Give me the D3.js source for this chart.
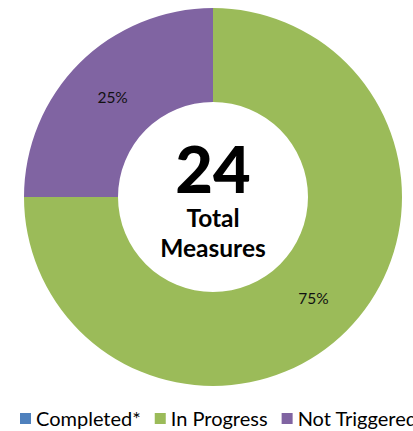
<!DOCTYPE html>
<html><head><meta charset="utf-8">
<script src="https://cdn.jsdelivr.net/npm/d3@7"></script>
<style>body{margin:0;background:#fff;overflow:hidden}svg{display:block}</style>
</head><body>
<script>
const categories = ["Completed*", "In Progress", "Not Triggered"];
const values = [0, 18, 6];
const colors = ["#4F81BD", "#9BBB59", "#8064A2"];
const totalLabel = ["Total", "Measures"];

const W = 413, H = 431;
const cx = 213, cy = 197, rOuter = 189, rInner = 95;
const font = "Lato, 'Open Sans', sans-serif";

const svg = d3.select("body").append("svg").attr("width", W).attr("height", H);
const g = svg.append("g").attr("transform", `translate(${cx},${cy})`);

const data = categories.map((c, i) => ({cat: c, value: values[i], color: colors[i]}));
const pie = d3.pie().sort(null).value(d => d.value);
const arcs = pie(data);
const arc = d3.arc().innerRadius(rInner).outerRadius(rOuter);
const labelArc = d3.arc().innerRadius((rInner + rOuter) / 2).outerRadius((rInner + rOuter) / 2);

g.selectAll("path").data(arcs.filter(d => d.data.value > 0)).join("path")
  .attr("d", arc).attr("fill", d => d.data.color);

const total = d3.sum(values);
g.selectAll("text.pct").data(arcs.filter(d => d.data.value > 0)).join("text")
  .attr("class", "pct")
  .attr("transform", d => `translate(${labelArc.centroid(d)})`)
  .attr("text-anchor", "middle").attr("dy", "0.4em")
  .style("font-family", font).style("font-size", "15.5px").attr("fill", "#111")
  .text(d => Math.round(d.data.value / total * 100) + "%");

g.append("text").attr("text-anchor", "middle").attr("y", -4)
  .style("font-family", font).style("font-weight", "900").style("font-size", "65px")
  .attr("fill", "#000").text(total);
g.append("text").attr("text-anchor", "middle").attr("y", 30)
  .style("font-family", font).style("font-weight", "700").style("font-size", "24.5px")
  .attr("fill", "#000").text(totalLabel[0]);
g.append("text").attr("text-anchor", "middle").attr("y", 60)
  .style("font-family", font).style("font-weight", "700").style("font-size", "24.5px")
  .attr("fill", "#000").text(totalLabel[1]);

// legend
const leg = svg.append("g").attr("transform", "translate(20,419)");
let x = 0;
data.forEach(d => {
  const it = leg.append("g").attr("transform", `translate(${x},0)`);
  it.append("rect").attr("x", 0).attr("y", -6).attr("width", 11).attr("height", 11).attr("fill", d.color);
  const t = it.append("text").attr("x", 16).attr("dy", "0.35em")
    .style("font-family", font).style("font-size", "20px").attr("fill", "#000").text(d.cat);
  x += 16 + t.node().getComputedTextLength() + 14;
});
</script>
</body></html>
